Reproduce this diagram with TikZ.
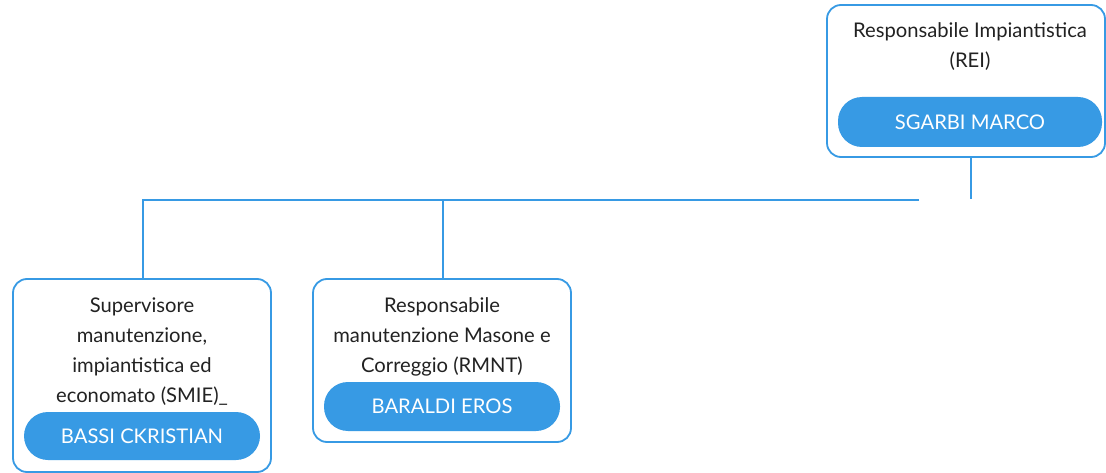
\documentclass[tikz,border=0pt]{standalone}
\usepackage{fontspec}
\setmainfont{Lato}
\definecolor{blu}{RGB}{55,154,228}
\definecolor{txt}{RGB}{34,34,34}
\begin{document}
\begin{tikzpicture}[x=1pt,y=-1pt,
  card/.style={draw=blu,line width=1.8pt,rounded corners=14pt,fill=white,inner sep=0pt},
  pill/.style={fill=blu,rounded corners=24pt,inner sep=0pt,text=white,font=\fontsize{20.2}{20}\selectfont},
  lbl/.style={text=txt,align=center,font=\fontsize{20.2}{30}\selectfont,inner sep=0pt},
  conn/.style={draw=blu,line width=2.6pt}]
\useasboundingbox (0,0) rectangle (1106,473);
% top
\node[card,minimum width=278pt,minimum height=152pt] (rei) at (966,81) {};
\node[lbl] (reit) at (970,47) {Responsabile Impiantistica\\(REI)};
\node[pill,minimum width=264pt,minimum height=50pt] (reip) at (970,122) {SGARBI MARCO};
% left
\node[card,minimum width=258pt,minimum height=193pt] (smie) at (142,375.5) {};
\node[lbl] (smiet) at (142,352) {Supervisore\\manutenzione,\\impiantistica ed\\economato (SMIE)\_};
\node[pill,minimum width=236pt,minimum height=48pt] (smiep) at (142,436) {BASSI CKRISTIAN};
% middle
\node[card,minimum width=258pt,minimum height=163pt] (rmnt) at (442,360.5) {};
\node[lbl] (rmntt) at (442,337) {Responsabile\\manutenzione Masone e\\Correggio (RMNT)};
\node[pill,minimum width=236pt,minimum height=49pt] (rmntp) at (442,406.5) {BARALDI EROS};
% connectors
\coordinate (drop) at (971,199);
\coordinate (hr) at (919,200);
\coordinate (hl) at (143,200);
\coordinate (hm) at (443,200);
\draw[conn] (rei.south -| drop) -- (drop);
\draw[conn] (hr) -- (hl) -- (hl |- smie.north);
\draw[conn] (hm) -- (hm |- rmnt.north);
\end{tikzpicture}
\end{document}
